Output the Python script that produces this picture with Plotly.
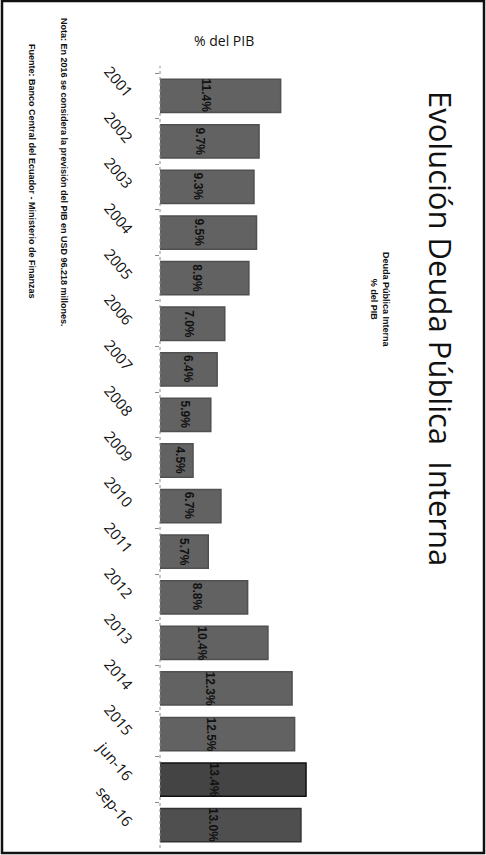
import plotly.graph_objects as go

# Deuda pública interna como % del PIB
periodos = ["2001", "2002", "2003", "2004", "2005", "2006", "2007", "2008", "2009",
            "2010", "2011", "2012", "2013", "2014", "2015", "jun-16", "sep-16"]
deuda_pib = [11.4, 9.7, 9.3, 9.5, 8.9, 7.0, 6.4, 5.9, 4.5,
             6.7, 5.7, 8.8, 10.4, 12.3, 12.5, 13.4, 13.0]
etiquetas = [f"{v:.1f}%" for v in deuda_pib]

titulo = "Evolución Deuda Pública  Interna"
subtitulo = "<b>Deuda Pública Interna<br>% del PIB</b>"
unidad = "% del PIB"
nota = "<b>Nota: En 2016 se considera la previsión del PIB en USD 96.218 millones.</b>"
fuente = "<b>Fuente: Banco Central del Ecuador - Ministerio de Finanzas</b>"

W, H = 486, 855
L, R, T, B = 160, 320, 73, 848   # plot area in pixels
X_MIN, X_MAX = 1.9, 14.5
N = len(periodos)


def px(x):
    return (x - L) / (R - L)


def py(y):
    return (B - y) / (B - T)


colores = ["#626262"] * (N - 2) + ["#444444", "#4f4f4f"]
bordes = ["#505050"] * (N - 2) + ["#111111", "#333333"]

fig = go.Figure(go.Bar(
    x=deuda_pib,
    y=periodos,
    orientation="h",
    marker=dict(color=colores, line=dict(color=bordes, width=1.5)),
    hoverinfo="x+y",
))

annotations = []
for i, (v, t) in enumerate(zip(deuda_pib, etiquetas)):
    annotations.append(dict(
        x=X_MIN + 0.8 + 0.3 * (v - X_MIN), y=i, xref="x", yref="y",
        xanchor="center", yanchor="middle",
        text=f"<b>{t}</b>", showarrow=False, textangle=90,
        font=dict(family="Liberation Sans Narrow, Liberation Sans", size=12, color="#111111"),
    ))


def texto(x, y, txt, size, family, angle=90, weight="normal"):
    return dict(x=px(x), y=py(y), xref="paper", yref="paper", text=txt,
                xanchor="center", yanchor="middle", showarrow=False,
                textangle=angle,
                font=dict(family=family, size=size, color="#111111", weight=weight))


annotations += [
    texto(441, 328, titulo, 31, "Open Sans"),
    texto(380, 300, subtitulo, 9, "Liberation Sans Narrow, Liberation Sans"),
    texto(224, 40, unidad, 14, "Open Sans", angle=0),
    texto(64, 172, nota, 9, "Liberation Sans Narrow, Liberation Sans"),
    texto(32, 171, fuente, 9, "Liberation Sans Narrow, Liberation Sans"),
]

shapes = [
    dict(type="rect", xref="paper", yref="paper",
         x0=px(2), x1=px(484), y0=py(853), y1=py(1),
         line=dict(color="#111111", width=2.5), fillcolor="rgba(0,0,0,0)"),
    dict(type="line", xref="paper", yref="paper",
         x0=0, x1=0, y0=0, y1=py(66),
         line=dict(color="#8a8a8a", width=1, dash="dot")),
]

fig.update_layout(
    width=W, height=H,
    margin=dict(l=L, r=W - R, t=T, b=H - B),
    paper_bgcolor="white", plot_bgcolor="white",
    showlegend=False,
    bargap=0.27,
    xaxis=dict(range=[X_MIN, X_MAX], visible=False, fixedrange=True),
    yaxis=dict(
        type="category", range=[N - 0.5, -0.5],
        categoryorder="array", categoryarray=periodos,
        tickangle=50, ticks="outside", tickson="boundaries",
        ticklen=4, tickcolor="#8a8a8a", showline=False, showgrid=False,
        ticklabelstandoff=28,
        tickfont=dict(family="Open Sans", size=15, color="#111111"),
    ),
    annotations=annotations,
    shapes=shapes,
)

fig.write_html("out.html")
